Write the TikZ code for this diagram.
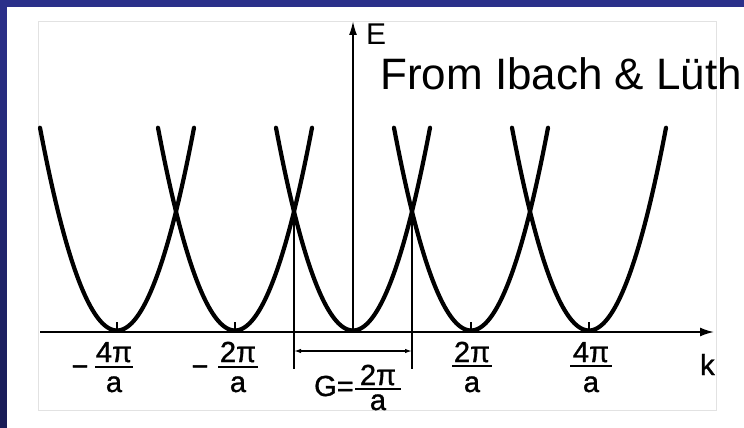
\documentclass[tikz,border=0pt]{standalone}
\usepackage{fontspec}
\setmainfont{Liberation Sans}
\newfontfamily\lblfont[FakeBold=1.2]{Liberation Sans}
\usetikzlibrary{arrows.meta}
\definecolor{slideblue}{RGB}{43,48,138}
\definecolor{slidedark}{RGB}{24,28,86}
\definecolor{framegrey}{RGB}{226,226,226}
\begin{document}
\begin{tikzpicture}[x=1pt,y=-1pt,
  band/.style={line width=4.2pt, line cap=round},
  axisline/.style={line width=1.8pt},
  thinline/.style={line width=1.3pt},
  lbl/.style={font=\lblfont\fontsize{29}{31}\selectfont, inner sep=0pt},
  fbar/.style={line width=2pt},
  credit/.style={font=\fontsize{44}{48}\selectfont, inner sep=0pt}
]
\useasboundingbox (0,0) rectangle (744,428);
\clip (0,0) rectangle (744,428);
\fill[white] (0,0) rectangle (744,428);
\foreach \i in {0,...,42}{
  \pgfmathsetmacro{\p}{100-\i*100/42}
  \fill[slideblue!\p!slidedark] (0,{\i*10}) rectangle (7,{\i*10+10.5});
}
\fill[slideblue] (0,0) rectangle (744,7);
\draw[framegrey, line width=1pt] (38.5,21.5) rectangle (716.5,410.5);

% parabolas
\foreach \c in {117,235,353,471,589}{
  \draw[band] plot[domain=-77:77, samples=80] ({\c+\x},{330.5-0.0342*\x*\x});
  \draw[thinline] (\c,322) -- (\c,332);
}

% axes
\coordinate (kstart) at (40,332);
\coordinate (kend) at (714,332);
\coordinate (eorig) at (353,332);
\coordinate (etip) at (353,21);
\draw[axisline, -{Latex[length=14pt,width=9pt]}] (kstart) -- (kend);
\draw[axisline, -{Latex[length=14pt,width=8pt]}] (eorig) -- (etip);

\node[credit, font=\fontsize{30}{32}\selectfont, anchor=base west] (elab) at (366,45) {E};
\node[lbl, anchor=base west] (klab) at (700,375) {k};

% G bracket
\coordinate (gtopL) at (294,211);
\coordinate (gbotL) at (294,369);
\coordinate (gtopR) at (412,211);
\coordinate (gbotR) at (412,369);
\coordinate (garL) at (294,351);
\coordinate (garR) at (412,351);
\draw[thinline] (gtopL) -- (gbotL);
\draw[thinline] (gtopR) -- (gbotR);
\draw[thinline, {Latex[length=7pt,width=4.5pt]}-{Latex[length=7pt,width=4.5pt]}] (garL) -- (garR);

% labels -4pi/a
\node[lbl, anchor=base] (m1) at (80,376) {−};
\node[lbl, anchor=base] (n1) at (114,362) {4π};
\draw[fbar] (95,367) -- (133,367);
\node[lbl, anchor=base] (d1) at (114,392) {a};

\node[lbl, anchor=base] (m2) at (200,376) {−};
\node[lbl, anchor=base] (n2) at (238,362) {2π};
\draw[fbar] (218,367) -- (258,367);
\node[lbl, anchor=base] (d2) at (238,392) {a};

\node[lbl, anchor=base] (n4) at (472,362) {2π};
\draw[fbar] (452,366) -- (492,366);
\node[lbl, anchor=base] (d4) at (472,392) {a};

\node[lbl, anchor=base] (n5) at (591,362) {4π};
\draw[fbar] (570,366) -- (612,366);
\node[lbl, anchor=base] (d5) at (591,392) {a};

\node[lbl, anchor=base west] (geq) at (314,396) {G=};
\node[lbl, anchor=base] (ng) at (378,385) {2π};
\draw[fbar] (355,389) -- (401,389);
\node[lbl, anchor=base] (dg) at (378,410) {a};

\node[credit, anchor=base west] (src) at (380,89) {From Ibach \& Lüth};
\end{tikzpicture}
\end{document}
